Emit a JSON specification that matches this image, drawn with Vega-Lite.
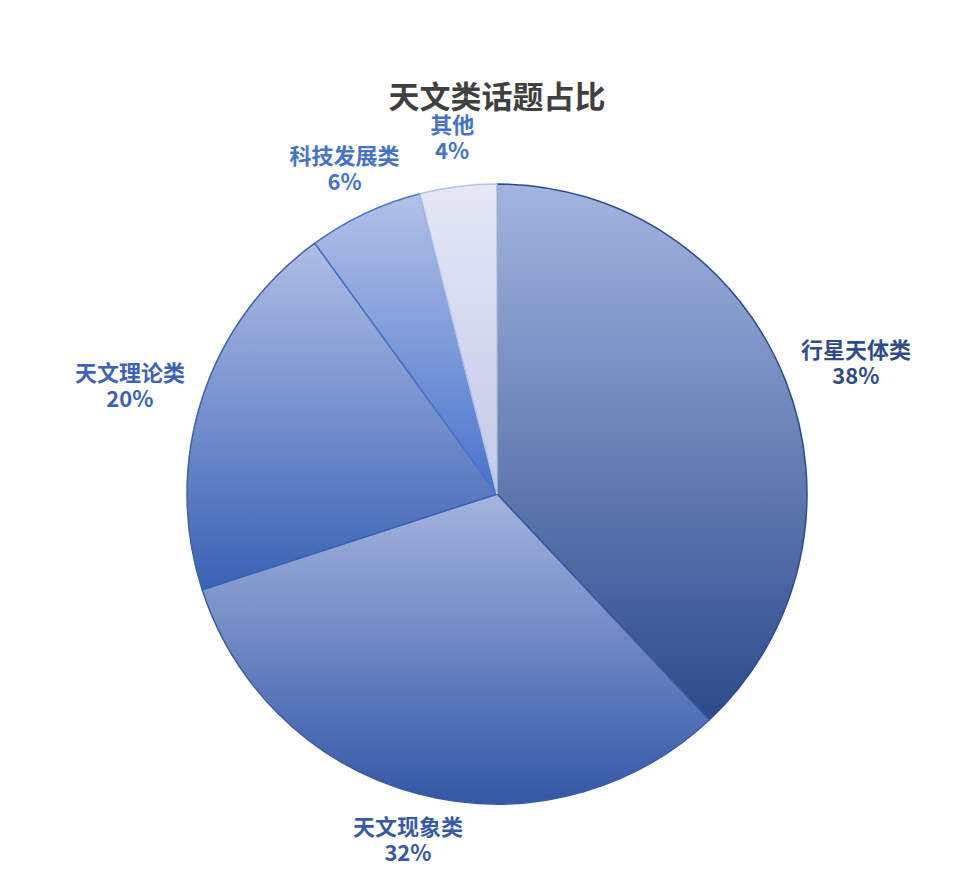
{
  "$schema": "https://vega.github.io/schema/vega-lite/v6.json",
  "width": 620,
  "height": 620,
  "autosize": "none",
  "padding": {"left": 187, "top": 184, "right": 160, "bottom": 71},
  "background": "white",
  "config": {"view": {"stroke": null}, "font": "Noto Sans CJK SC"},
  "title": {
    "text": "天文类话题占比",
    "fontSize": 31,
    "fontWeight": "bold",
    "color": "#404040",
    "font": "Noto Sans CJK SC",
    "anchor": "middle",
    "offset": -16
  },
  "data": {
    "values": [
      {"category": "行星天体类", "value": 0.38},
      {"category": "天文现象类", "value": 0.32},
      {"category": "天文理论类", "value": 0.20},
      {"category": "科技发展类", "value": 0.06},
      {"category": "其他", "value": 0.04}
    ]
  },
  "transform": [
    {"stack": "value", "groupby": [], "as": ["v0", "v1"], "sort": [{"field": "value", "order": "descending"}]}
  ],
  "layer": [
    {
      "transform": [{"filter": {"field": "category", "equal": "行星天体类"}}],
      "mark": {"type": "arc", "strokeWidth": 1.5, "stroke": "#2e4a8a",
        "fill": {"gradient": "linear", "x1": 0, "y1": 0, "x2": 0, "y2": 1, "stops": [{"offset": 0, "color": "#a2b5df"}, {"offset": 1, "color": "#2c4a8a"}]}},
      "encoding": {
        "theta": {"field": "v0", "type": "quantitative", "scale": {"domain": [0, 1]}},
        "theta2": {"field": "v1"}
      }
    },
    {
      "transform": [{"filter": {"field": "category", "equal": "天文现象类"}}],
      "mark": {"type": "arc", "strokeWidth": 1.5, "stroke": "#3a5aa6",
        "fill": {"gradient": "linear", "x1": 0, "y1": 0, "x2": 0, "y2": 1, "stops": [{"offset": 0, "color": "#a4b4de"}, {"offset": 1, "color": "#3357a6"}]}},
      "encoding": {
        "theta": {"field": "v0", "type": "quantitative", "scale": {"domain": [0, 1]}},
        "theta2": {"field": "v1"}
      }
    },
    {
      "transform": [{"filter": {"field": "category", "equal": "天文理论类"}}],
      "mark": {"type": "arc", "strokeWidth": 1.5, "stroke": "#3d62b5",
        "fill": {"gradient": "linear", "x1": 0, "y1": 0, "x2": 0, "y2": 1, "stops": [{"offset": 0, "color": "#afbee4"}, {"offset": 1, "color": "#3961b4"}]}},
      "encoding": {
        "theta": {"field": "v0", "type": "quantitative", "scale": {"domain": [0, 1]}},
        "theta2": {"field": "v1"}
      }
    },
    {
      "transform": [{"filter": {"field": "category", "equal": "科技发展类"}}],
      "mark": {"type": "arc", "strokeWidth": 1.5, "stroke": "#4a72c8",
        "fill": {"gradient": "linear", "x1": 0, "y1": 0, "x2": 0, "y2": 1, "stops": [{"offset": 0, "color": "#b3c2e7"}, {"offset": 1, "color": "#4873cc"}]}},
      "encoding": {
        "theta": {"field": "v0", "type": "quantitative", "scale": {"domain": [0, 1]}},
        "theta2": {"field": "v1"}
      }
    },
    {
      "transform": [{"filter": {"field": "category", "equal": "其他"}}],
      "mark": {"type": "arc", "strokeWidth": 1.5, "stroke": "#b6c1e4",
        "fill": {"gradient": "linear", "x1": 0, "y1": 0, "x2": 0, "y2": 1, "stops": [{"offset": 0, "color": "#e5e7f5"}, {"offset": 1, "color": "#c3c9e8"}]}},
      "encoding": {
        "theta": {"field": "v0", "type": "quantitative", "scale": {"domain": [0, 1]}},
        "theta2": {"field": "v1"}
      }
    },
    {
      "mark": {"type": "text", "radius": 386, "dy": -1, "fontSize": 22, "fontWeight": "bold", "font": "Noto Sans CJK SC", "align": "center", "baseline": "middle"},
      "encoding": {
        "theta": {"field": "value", "type": "quantitative", "stack": true, "scale": {"domain": [0, 1]}},
        "order": {"field": "value", "type": "quantitative", "sort": "descending"},
        "text": {"condition": {"test": {"field": "category", "oneOf": ["行星天体类", "天文理论类"]}, "field": "category", "type": "nominal"}, "value": ""},
        "color": {
          "field": "category",
          "type": "nominal",
          "legend": null,
          "scale": {
            "domain": ["行星天体类", "天文现象类", "天文理论类", "科技发展类", "其他"],
            "range": ["#2e4b8b", "#3759a8", "#3c63b8", "#4672c8", "#4672c8"]
          }
        }
      }
    },
    {
      "mark": {"type": "text", "radius": 386, "dy": 25, "fontSize": 22, "fontWeight": "bold", "font": "Noto Sans CJK SC", "align": "center", "baseline": "middle"},
      "encoding": {
        "theta": {"field": "value", "type": "quantitative", "stack": true, "scale": {"domain": [0, 1]}},
        "order": {"field": "value", "type": "quantitative", "sort": "descending"},
        "text": {"condition": {"test": {"field": "category", "oneOf": ["行星天体类", "天文理论类"]}, "field": "value", "type": "quantitative", "format": ".0%"}, "value": ""},
        "color": {
          "field": "category",
          "type": "nominal",
          "legend": null,
          "scale": {
            "domain": ["行星天体类", "天文现象类", "天文理论类", "科技发展类", "其他"],
            "range": ["#2e4b8b", "#3759a8", "#3c63b8", "#4672c8", "#4672c8"]
          }
        }
      }
    },
    {
      "mark": {"type": "text", "radius": 358, "dy": -13, "fontSize": 22, "fontWeight": "bold", "font": "Noto Sans CJK SC", "align": "center", "baseline": "middle"},
      "encoding": {
        "theta": {"field": "value", "type": "quantitative", "stack": true, "scale": {"domain": [0, 1]}},
        "order": {"field": "value", "type": "quantitative", "sort": "descending"},
        "text": {"condition": {"test": {"field": "category", "oneOf": ["天文现象类", "科技发展类", "其他"]}, "field": "category", "type": "nominal"}, "value": ""},
        "color": {
          "field": "category",
          "type": "nominal",
          "legend": null,
          "scale": {
            "domain": ["行星天体类", "天文现象类", "天文理论类", "科技发展类", "其他"],
            "range": ["#2e4b8b", "#3759a8", "#3c63b8", "#4672c8", "#4672c8"]
          }
        }
      }
    },
    {
      "mark": {"type": "text", "radius": 358, "dy": 13, "fontSize": 22, "fontWeight": "bold", "font": "Noto Sans CJK SC", "align": "center", "baseline": "middle"},
      "encoding": {
        "theta": {"field": "value", "type": "quantitative", "stack": true, "scale": {"domain": [0, 1]}},
        "order": {"field": "value", "type": "quantitative", "sort": "descending"},
        "text": {"condition": {"test": {"field": "category", "oneOf": ["天文现象类", "科技发展类", "其他"]}, "field": "value", "type": "quantitative", "format": ".0%"}, "value": ""},
        "color": {
          "field": "category",
          "type": "nominal",
          "legend": null,
          "scale": {
            "domain": ["行星天体类", "天文现象类", "天文理论类", "科技发展类", "其他"],
            "range": ["#2e4b8b", "#3759a8", "#3c63b8", "#4672c8", "#4672c8"]
          }
        }
      }
    }
  ]
}
